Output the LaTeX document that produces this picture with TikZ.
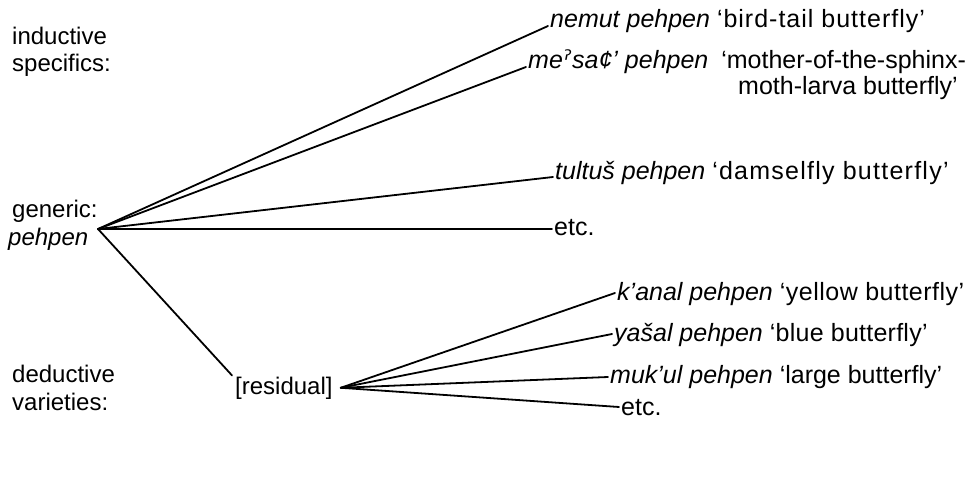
\documentclass[tikz,border=0pt]{standalone}
\usepackage{fontspec}
\setmainfont{Liberation Sans}
\newfontfamily\dvfont{DejaVu Sans}
\newcommand{\gl}[2]{{\addfontfeature{LetterSpace=#1}#2}}
\begin{document}
\begin{tikzpicture}[x=1pt,y=-1pt,
  lbl/.style={inner sep=0pt, anchor=base west, font=\fontsize{24}{27}\selectfont},
  term/.style={inner sep=0pt, anchor=base west, font=\fontsize{25}{22}\selectfont},
  branch/.style={line width=1.8pt, line cap=round}]
\useasboundingbox (0,0) rectangle (974,481);
\fill[white] (0,0) rectangle (974,481);
% left labels
\node[lbl] (ind1) at (12,45) {inductive};
\node[lbl] (ind2) at (12,72) {specifics:};
\node[lbl] (gen1) at (12,218) {generic:};
\node[lbl] (gen2) at (8,245) {\itshape pehpen};
\node[lbl] (ded1) at (12,382) {deductive};
\node[lbl] (ded2) at (12,410) {varieties:};
% apex
\coordinate (g) at (98,229);
% upper terms
\node[term] (t1) at (550,28) {\textit{nemut pehpen} \gl{4}{‘bird-tail butterfly’}};
\node[term] (t2) at (528,69) {\textit{me{\dvfont\itshape ˀ}sa¢’ pehpen}\hspace{6pt} ‘mother-of-the-sphinx-};
\node[term] (t2b) at (738,95) {moth-larva butterfly’};
\node[term] (t3) at (555,180) {\textit{tultuš pehpen} \gl{5}{‘damselfly butterfly’}};
\node[term] (t4) at (554,236) {etc.};
% residual
\node[lbl] (res) at (235,394) {[residual]};
% lower terms
\node[term] (u1) at (617,300) {\textit{k’anal pehpen} \gl{2}{‘yellow butterfly’}};
\node[term] (u2) at (614,341) {\textit{yašal pehpen} \gl{1}{‘blue butterfly’}};
\node[term] (u3) at (610,383) {\textit{muk’ul pehpen} ‘large butterfly’};
\node[term] (u4) at (621,415) {etc.};
% connectors
\draw[branch] (g) -- ([shift={(-2,-2)}]t1.base west);
\draw[branch] (g) -- ([shift={(-2,-2)}]t2.base west);
\draw[branch] (g) -- ([shift={(-2,-3)}]t3.base west);
\draw[branch] (g) -- ([shift={(-2,-7)}]t4.base west);
\draw[branch] (g) -- ([shift={(-3,-1)}]res.north west);
\coordinate (r) at ([xshift=8pt]res.east);
\draw[branch] (r) -- ([shift={(-2,-7)}]u1.base west);
\draw[branch] (r) -- ([shift={(-2,-7)}]u2.base west);
\draw[branch] (r) -- ([shift={(-2,-6)}]u3.base west);
\draw[branch] (r) -- ([shift={(-2,-8)}]u4.base west);
\end{tikzpicture}
\end{document}
